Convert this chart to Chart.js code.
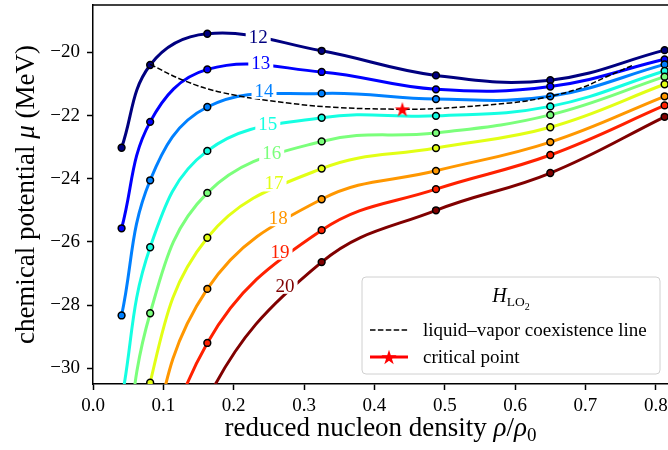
<!DOCTYPE html>
<html>
<head>
<meta charset="utf-8">
<script src="https://cdn.jsdelivr.net/npm/chart.js@4.4.1/dist/chart.umd.min.js"></script>
<style>
  html, body { margin: 0; padding: 0; background: #fff; overflow: hidden; }
  #wrap { width: 668px; height: 450px; }
</style>
</head>
<body>
<div id="wrap"><canvas id="chart" width="668" height="450"></canvas></div>
<script>
// reduced densities rho/rho0 where mu was computed
const rho = [0.040625, 0.08125, 0.1625, 0.325, 0.4875, 0.65, 0.8125];

// isotherm temperatures (MeV)
const temps = [12, 13, 14, 15, 16, 17, 18, 19, 20];

// chemical potential mu (MeV) along each isotherm (values under -30.5 fall off the plot)
const mu12 = [-23.02, -20.40, -19.41, -19.95, -20.73, -20.88, -19.93];
const mu13 = [-25.57, -22.20, -20.54, -20.62, -21.17, -21.08, -20.22];
const mu14 = [-28.33, -24.05, -21.73, -21.30, -21.48, -21.39, -20.38];
const mu15 = [-31.0, -26.17, -23.12, -22.07, -22.01, -21.71, -20.59];
const mu16 = [-33.8, -28.26, -24.45, -22.82, -22.55, -21.98, -20.77];
const mu17 = [-37.3, -30.46, -25.87, -23.68, -23.03, -22.37, -21.01];
const mu18 = [-40.5, -32.8, -27.49, -24.65, -23.75, -22.84, -21.39];
const mu19 = [-43.8, -35.2, -29.20, -25.63, -24.33, -23.25, -21.68];
const mu20 = [-47.0, -37.6, -31.0, -26.64, -25.00, -23.82, -22.04];
const muSeries = [mu12, mu13, mu14, mu15, mu16, mu17, mu18, mu19, mu20];

// liquid-vapor coexistence line
const coexRho = [0.08125, 0.128, 0.185, 0.280, 0.351, 0.4397, 0.488, 0.593, 0.635, 0.692, 0.730, 0.768];
const coexMu = [-20.38, -20.88, -21.28, -21.61, -21.75, -21.80, -21.78, -21.60, -21.46, -21.14, -20.77, -20.40];

// critical point
const critRho = [0.4397];
const critMu = [-21.80];

// where the temperature labels sit on the curves
const labelRho = [0.2348, 0.2385, 0.2431, 0.2485, 0.2540, 0.2573, 0.2634, 0.2658, 0.2730];
const labelMu = [-19.51, -20.33, -21.22, -22.27, -23.20, -24.15, -25.25, -26.31, -27.39];

// tick labels
const xTicks = [0.0, 0.1, 0.2, 0.3, 0.4, 0.5, 0.6, 0.7, 0.8];
const yTicks = [-30, -28, -26, -24, -22, -20];

// jet colormap samples for T = 12..20
const jetColors = ["#000080", "#0000ff", "#0080ff", "#15ffe2", "#7bff7b", "#e2ff15", "#ff9700", "#ff2100", "#800000"];

const SERIF = '"Liberation Serif", "Times New Roman", serif';

// filled red star used for the critical point
function makeStar(R) {
  const c = document.createElement("canvas");
  const size = Math.ceil(R * 2 + 4);
  c.width = size;
  c.height = size;
  const g = c.getContext("2d");
  drawStar(g, size / 2, size / 2 + R * 0.1, R);
  return c;
}
function drawStar(g, cx, cy, R) {
  const r = R * 0.382;
  g.beginPath();
  for (let i = 0; i < 10; i++) {
    const a = -Math.PI / 2 + i * Math.PI / 5;
    const rr = i % 2 === 0 ? R : r;
    g.lineTo(cx + rr * Math.cos(a), cy + rr * Math.sin(a));
  }
  g.closePath();
  g.fillStyle = "#ff0000";
  g.fill();
}
const starImg = makeStar(8);

const datasets = temps.map((t, i) => ({
  label: "T=" + t,
  data: rho.map((r, j) => ({ x: r, y: muSeries[i][j] })),
  borderColor: jetColors[i],
  backgroundColor: jetColors[i],
  pointBackgroundColor: jetColors[i],
  pointBorderColor: "#000",
  pointBorderWidth: 1.5,
  pointRadius: 3.4,
  borderWidth: 3,
  tension: 0.4,
  order: temps.length - i + 1,
}));

datasets.push({
  label: "liquid–vapor coexistence line",
  data: coexRho.map((r, j) => ({ x: r, y: coexMu[j] })),
  borderColor: "#000",
  borderWidth: 1.5,
  borderDash: [5.5, 2.4],
  pointRadius: 0,
  tension: 0.4,
  order: 1,
});

datasets.push({
  label: "critical point",
  data: critRho.map((r, j) => ({ x: r, y: critMu[j] })),
  showLine: false,
  pointStyle: starImg,
  pointRadius: 8,
  order: 0,
});

// draws text pieces with different fonts side by side
function drawRich(ctx, parts, x, y) {
  let total = 0;
  parts.forEach((p) => {
    ctx.font = p.font;
    total += ctx.measureText(p.text).width;
  });
  let cx = x - total / 2;
  parts.forEach((p) => {
    ctx.font = p.font;
    ctx.fillText(p.text, cx, y + (p.dy || 0));
    cx += ctx.measureText(p.text).width;
  });
}

// keep the plot box where the reference has it
function noPad(s) {
  s.paddingTop = 0;
  s.paddingBottom = 0;
  s.paddingLeft = 0;
  s.paddingRight = 0;
}

const decorPlugin = {
  id: "decor",
  afterDatasetsDraw(chart) {
    const ctx = chart.ctx;
    const xs = chart.scales.x;
    const ys = chart.scales.y;
    ctx.save();
    ctx.font = "19px " + SERIF;
    ctx.textAlign = "center";
    ctx.textBaseline = "middle";
    temps.forEach((t, i) => {
      const px = xs.getPixelForValue(labelRho[i]);
      const py = ys.getPixelForValue(labelMu[i]);
      const w = ctx.measureText(String(t)).width;
      ctx.fillStyle = "#fff";
      ctx.fillRect(px - w / 2 - 3, py - 8, w + 6, 16);
      ctx.fillStyle = jetColors[i];
      ctx.fillText(String(t), px, py + 1);
    });
    ctx.restore();
  },
  afterDraw(chart) {
    const ctx = chart.ctx;
    const a = chart.chartArea;
    ctx.save();

    // top spine
    ctx.strokeStyle = "#000";
    ctx.lineWidth = 1.5;
    ctx.beginPath();
    ctx.moveTo(a.left - 0.75, a.top);
    ctx.lineTo(a.right, a.top);
    ctx.stroke();

    // axis titles
    ctx.fillStyle = "#000";
    ctx.textBaseline = "alphabetic";
    ctx.textAlign = "left";
    const big = "27px " + SERIF;
    const bigIt = "italic 27px " + SERIF;
    drawRich(ctx, [
      { text: "reduced nucleon density ", font: big },
      { text: "ρ", font: bigIt },
      { text: "/", font: big },
      { text: "ρ", font: bigIt },
      { text: "0", font: "19px " + SERIF, dy: 5 },
    ], (a.left + a.right) / 2, 436);

    ctx.save();
    ctx.translate(33.5, (a.top + a.bottom) / 2);
    ctx.rotate(-Math.PI / 2);
    drawRich(ctx, [
      { text: "chemical potential ", font: big },
      { text: "μ", font: bigIt },
      { text: " (MeV)", font: big },
    ], 0, 0);
    ctx.restore();

    // legend box
    const bx = a.right - 306, by = a.bottom - 107, bw = 298, bh = 97;
    ctx.beginPath();
    ctx.roundRect(bx, by, bw, bh, 4);
    ctx.fillStyle = "rgba(255,255,255,0.8)";
    ctx.fill();
    ctx.strokeStyle = "#d0d0d0";
    ctx.lineWidth = 1;
    ctx.stroke();

    ctx.fillStyle = "#000";
    drawRich(ctx, [
      { text: "H", font: "italic 20px " + SERIF },
      { text: "LO", font: "13.5px " + SERIF, dy: 4 },
      { text: "2", font: "10px " + SERIF, dy: 8 },
    ], bx + bw / 2, by + 25);

    // dashed handle
    ctx.strokeStyle = "#000";
    ctx.lineWidth = 1.5;
    ctx.setLineDash([5.5, 2.4]);
    ctx.beginPath();
    ctx.moveTo(bx + 8, by + 53);
    ctx.lineTo(bx + 46, by + 53);
    ctx.stroke();
    ctx.setLineDash([]);

    // star handle
    ctx.strokeStyle = "#ff0000";
    ctx.lineWidth = 3;
    ctx.beginPath();
    ctx.moveTo(bx + 8, by + 80);
    ctx.lineTo(bx + 46, by + 80);
    ctx.stroke();
    drawStar(ctx, bx + 27, by + 80.8, 8);

    ctx.fillStyle = "#000";
    ctx.font = "19px " + SERIF;
    ctx.textAlign = "left";
    ctx.fillText("liquid–vapor coexistence line", bx + 61, by + 59);
    ctx.fillText("critical point", bx + 61, by + 85.5);
    ctx.restore();
  },
};

new Chart(document.getElementById("chart"), {
  type: "line",
  data: { datasets },
  options: {
    responsive: false,
    animation: false,
    devicePixelRatio: 1,
    elements: { line: { capBezierPoints: false } },
    layout: { autoPadding: false, padding: { top: 5, right: 0, left: 0, bottom: 0 } },
    plugins: { legend: { display: false }, tooltip: { enabled: false } },
    scales: {
      x: {
        type: "linear",
        min: 0,
        max: 0.8173,
        afterBuildTicks: (s) => { s.ticks = xTicks.map((v) => ({ value: v })); },
        afterFit: (s) => { s.height = 66; noPad(s); },
        ticks: {
          font: { family: SERIF, size: 19 },
          color: "#000",
          padding: 5,
          maxRotation: 0,
          callback: (v) => v.toFixed(1),
        },
        grid: { drawOnChartArea: false, tickLength: 6, tickColor: "#000", tickWidth: 1.5 },
        border: { color: "#000", width: 1.5 },
      },
      y: {
        type: "linear",
        min: -30.5,
        max: -18.5,
        afterBuildTicks: (s) => { s.ticks = yTicks.map((v) => ({ value: v })); },
        afterFit: (s) => { s.width = 93; noPad(s); },
        ticks: {
          font: { family: SERIF, size: 19 },
          color: "#000",
          padding: 7,
          callback: (v) => (v < 0 ? "−" : "") + Math.abs(v),
        },
        grid: { drawOnChartArea: false, tickLength: 6, tickColor: "#000", tickWidth: 1.5 },
        border: { color: "#000", width: 1.5 },
      },
    },
  },
  plugins: [decorPlugin],
});
</script>
</body>
</html>
